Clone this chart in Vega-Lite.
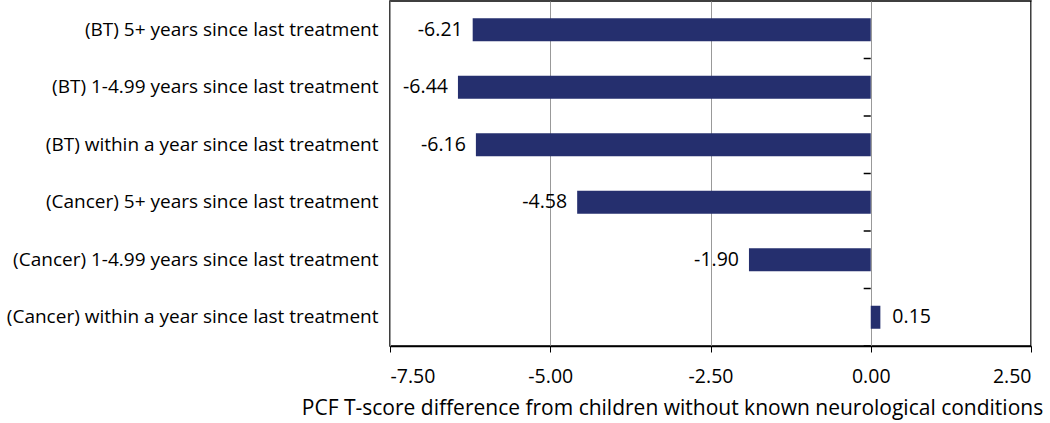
{
  "$schema": "https://vega.github.io/schema/vega-lite/v6.json",
  "autosize": "none",
  "width": 641,
  "height": 345,
  "padding": {"left": 390, "top": 1, "right": 19, "bottom": 77},
  "background": "white",
  "config": {
    "font": "Open Sans",
    "locale": {"number": {"decimal": ".", "thousands": ",", "grouping": [3], "currency": ["$", ""], "minus": "-"}},
    "view": {"stroke": "black", "strokeWidth": 1.5}
  },
  "data": {
    "values": [
      {"group": "(BT) 5+ years since last treatment", "value": -6.21},
      {"group": "(BT) 1-4.99 years since last treatment", "value": -6.44},
      {"group": "(BT) within a year since last treatment", "value": -6.16},
      {"group": "(Cancer) 5+ years since last treatment", "value": -4.58},
      {"group": "(Cancer) 1-4.99 years since last treatment", "value": -1.90},
      {"group": "(Cancer) within a year since last treatment", "value": 0.15}
    ]
  },
  "encoding": {
    "y": {
      "field": "group", "type": "nominal", "sort": null,
      "scale": {"paddingInner": 0.6, "paddingOuter": 0.3},
      "axis": {
        "title": null, "ticks": false, "domain": false,
        "labelFont": "Open Sans", "labelFontSize": 19, "labelColor": "black", "labelPadding": 12, "labelLimit": 500
      }
    }
  },
  "layer": [
    {
      "mark": {"type": "bar", "color": "#252f6e"},
      "encoding": {
        "x": {
          "field": "value", "type": "quantitative",
          "scale": {"domain": [-7.5, 2.5], "nice": false, "zero": false},
          "axis": {
            "values": [-7.5, -5, -2.5, 0, 2.5],
            "format": ".2f",
            "title": "PCF T-score difference from children without known neurological conditions",
            "titleFont": "Open Sans", "titleFontSize": 21, "titleFontWeight": "normal", "titleColor": "black",
            "titlePadding": 12, "titleX": 282, "titleAlign": "center",
            "labelFont": "Open Sans", "labelFontSize": 19.5, "labelColor": "black", "labelPadding": 15,
            "tickSize": 6, "tickColor": "black", "domainColor": "black", "domainWidth": 1.5,
            "grid": true, "gridColor": "#999999", "gridWidth": 1
          }
        }
      }
    },
    {
      "mark": {"type": "rule", "color": "black", "strokeWidth": 1.5},
      "encoding": {"x": {"datum": 0, "type": "quantitative"}}
    },
    {
      "mark": {"type": "rule", "color": "black", "strokeWidth": 1.5, "yOffset": 28.75},
      "encoding": {
        "x": {"datum": -0.11, "type": "quantitative"},
        "x2": {"datum": 0}
      }
    },
    {
      "mark": {
        "type": "text", "fontSize": 19.5, "color": "black", "font": "Open Sans",
        "align": {"expr": "datum.value < 0 ? 'right' : 'left'"},
        "dx": {"expr": "datum.value < 0 ? -10 : 12"}
      },
      "encoding": {
        "x": {"field": "value", "type": "quantitative"},
        "text": {"field": "value", "type": "quantitative", "format": ".2f"}
      }
    }
  ]
}
